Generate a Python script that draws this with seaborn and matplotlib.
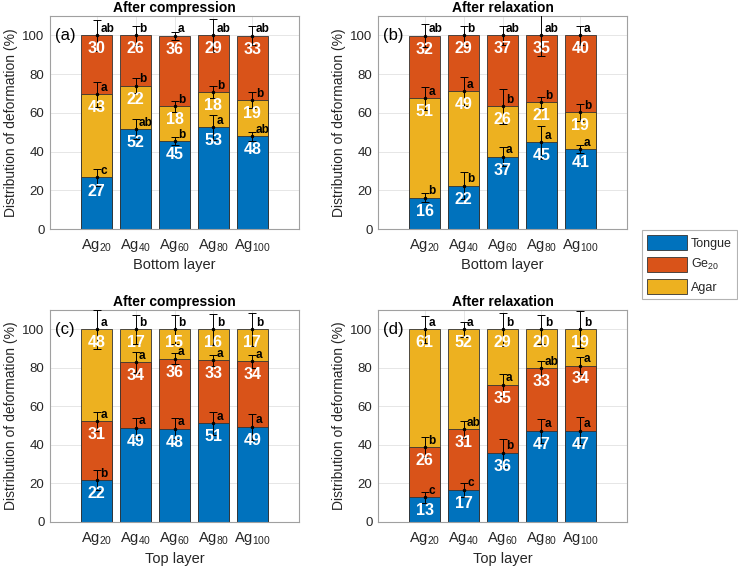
import numpy as np
import matplotlib
matplotlib.use('Agg')
import matplotlib.pyplot as plt
import seaborn as sns
from matplotlib.patches import Patch

sns.set_style('white')
plt.rcParams['font.family'] = ['Liberation Sans', 'DejaVu Sans']
plt.rcParams['mathtext.fontset'] = 'custom'
plt.rcParams['mathtext.rm'] = 'Liberation Sans'

GROUPS = ['Ag$_{20}$', 'Ag$_{40}$', 'Ag$_{60}$', 'Ag$_{80}$', 'Ag$_{100}$']
BLUE, ORANGE, YELLOW = '#0072BD', '#D95319', '#EDB120'
GRAY = '#262626'

# (a) bottom layer, after compression: tongue / agar / ge20 (bottom to top)
a_seg1 = [26.6, 51.6, 45.3, 52.6, 47.8]
a_seg2 = [43.0, 22.5, 18.0, 18.0, 18.7]
a_seg3 = [30.4, 25.9, 36.4, 29.4, 33.4]
a_err1 = [4.3, 5.0, 2.0, 6.5, 2.3]
a_err2 = [6.5, 3.8, 2.8, 3.0, 4.0]
a_err3 = [8.0, 5.0, 2.0, 8.5, 5.0]
a_let1 = ['c', 'ab', 'b', 'a', 'ab']
a_let2 = ['a', 'b', 'b', 'b', 'b']
a_let3 = ['ab', 'b', 'a', 'ab', 'ab']

# (b) bottom layer, after relaxation
b_seg1 = [16.2, 22.3, 37.4, 44.7, 41.2]
b_seg2 = [51.3, 48.9, 25.9, 20.8, 19.1]
b_seg3 = [32.4, 28.8, 36.7, 34.6, 39.7]
b_err1 = [2.2, 7.0, 4.8, 8.3, 2.0]
b_err2 = [5.8, 7.5, 9.0, 2.8, 4.5]
b_err3 = [6.0, 5.0, 5.0, 11.0, 5.0]
b_let1 = ['b', 'b', 'a', 'a', 'a']
b_let2 = ['a', 'a', 'b', 'b', 'b']
b_let3 = ['ab', 'b', 'ab', 'ab', 'a']

# (c) top layer, after compression: tongue / ge20 / agar
c_seg1 = [21.7, 49.0, 48.4, 51.2, 49.4]
c_seg2 = [30.6, 33.8, 36.4, 32.6, 33.9]
c_seg3 = [47.7, 17.2, 15.2, 16.2, 16.7]
c_err1 = [5.3, 5.0, 5.5, 6.0, 6.8]
c_err2 = [5.0, 5.5, 3.0, 3.0, 3.5]
c_err3 = [10.0, 7.5, 7.5, 8.0, 8.5]
c_let1 = ['b', 'a', 'a', 'a', 'a']
c_let2 = ['a', 'a', 'a', 'a', 'a']
c_let3 = ['a', 'b', 'b', 'b', 'b']

# (d) top layer, after relaxation
d_seg1 = [12.8, 16.6, 35.8, 47.2, 47.4]
d_seg2 = [26.0, 31.4, 35.4, 32.6, 33.8]
d_seg3 = [61.2, 52.0, 28.8, 20.2, 18.8]
d_err1 = [3.0, 3.8, 7.5, 6.0, 7.0]
d_err2 = [5.3, 4.5, 5.8, 3.5, 4.3]
d_err3 = [7.0, 4.0, 8.5, 7.5, 9.5]
d_let1 = ['c', 'c', 'b', 'a', 'a']
d_let2 = ['b', 'ab', 'a', 'ab', 'a']
d_let3 = ['a', 'a', 'b', 'b', 'b']


def stacked_panel(ax, segs, errs, lets, colors, title, xlabel, tag):
    segs = [np.array(s) for s in segs]
    tops = np.cumsum(segs, axis=0)
    x = np.arange(len(GROUPS))
    # draw tallest first so lower segments sit on top
    for k in range(len(segs) - 1, -1, -1):
        sns.barplot(x=GROUPS, y=tops[k], color=colors[k], width=0.8,
                    edgecolor='#333333', linewidth=0.6, saturation=1, ax=ax, zorder=2)
    for k in range(len(segs)):
        ax.errorbar(x, tops[k], yerr=errs[k], fmt='.', color='black', ms=3,
                    elinewidth=0.7, capsize=3, capthick=0.7, zorder=4)
        for i in range(len(x)):
            ax.text(i + 0.09, tops[k][i] + 3.4, lets[k][i], ha='left', va='center',
                    fontsize=8.5, fontweight='bold', color='black', zorder=5)
            ax.text(i, tops[k][i] - 7.0, f'{round(segs[k][i]):d}', ha='center', va='center',
                    fontsize=11.5, fontweight='bold', color='white', zorder=5)
    ax.text(-1.08, 100, tag, ha='left', va='center', fontsize=12, color='black')
    ax.set_xlim(-1.2, 5.2)
    ax.set_ylim(0, 110)
    ax.set_yticks([0, 20, 40, 60, 80, 100])
    ax.grid(True, color='#e6e6e6', lw=0.7, zorder=0)
    ax.set_axisbelow(True)
    ax.set_title(title, fontsize=10, fontweight='bold', color='black', pad=3)
    ax.set_xlabel(xlabel, fontsize=10.5, color=GRAY, labelpad=3)
    ax.set_ylabel('Distribution of deformation (%)', fontsize=10, color=GRAY, labelpad=3)
    ax.tick_params(axis='y', labelsize=9.5, colors=GRAY, length=0, pad=4)
    ax.tick_params(axis='x', labelsize=10.5, colors=GRAY, length=0, pad=6)
    for sp in ax.spines.values():
        sp.set_color('#a0a0a0')
        sp.set_linewidth(0.8)


fig = plt.figure(figsize=(7.38, 5.71), dpi=100)
W, H = 738, 571
def add_ax(l, t, r, b):
    return fig.add_axes([l / W, 1 - b / H, (r - l) / W, (b - t) / H])

ax_a = add_ax(50, 16, 299, 229)
ax_b = add_ax(378, 16, 627, 229)
ax_c = add_ax(50, 310, 299, 522)
ax_d = add_ax(378, 310, 627, 522)

stacked_panel(ax_a, [a_seg1, a_seg2, a_seg3], [a_err1, a_err2, a_err3], [a_let1, a_let2, a_let3],
              [BLUE, YELLOW, ORANGE], 'After compression', 'Bottom layer', '(a)')
stacked_panel(ax_b, [b_seg1, b_seg2, b_seg3], [b_err1, b_err2, b_err3], [b_let1, b_let2, b_let3],
              [BLUE, YELLOW, ORANGE], 'After relaxation', 'Bottom layer', '(b)')
stacked_panel(ax_c, [c_seg1, c_seg2, c_seg3], [c_err1, c_err2, c_err3], [c_let1, c_let2, c_let3],
              [BLUE, ORANGE, YELLOW], 'After compression', 'Top layer', '(c)')
stacked_panel(ax_d, [d_seg1, d_seg2, d_seg3], [d_err1, d_err2, d_err3], [d_let1, d_let2, d_let3],
              [BLUE, ORANGE, YELLOW], 'After relaxation', 'Top layer', '(d)')

handles = [Patch(facecolor=BLUE, edgecolor='#333333', lw=0.6, label='Tongue'),
           Patch(facecolor=ORANGE, edgecolor='#333333', lw=0.6, label='Ge$_{20}$'),
           Patch(facecolor=YELLOW, edgecolor='#333333', lw=0.6, label='Agar')]
leg = fig.legend(handles=handles, loc='upper left', bbox_to_anchor=(642 / W, 1 - 230 / H),
                 fontsize=9, frameon=True, fancybox=False, edgecolor='#a0a0a0',
                 handlelength=3.2, handleheight=1.45, labelspacing=0.55, handletextpad=0.3,
                 borderpad=0.4, borderaxespad=0)
leg.get_frame().set_linewidth(0.8)

fig.savefig('out.png', dpi=100)
